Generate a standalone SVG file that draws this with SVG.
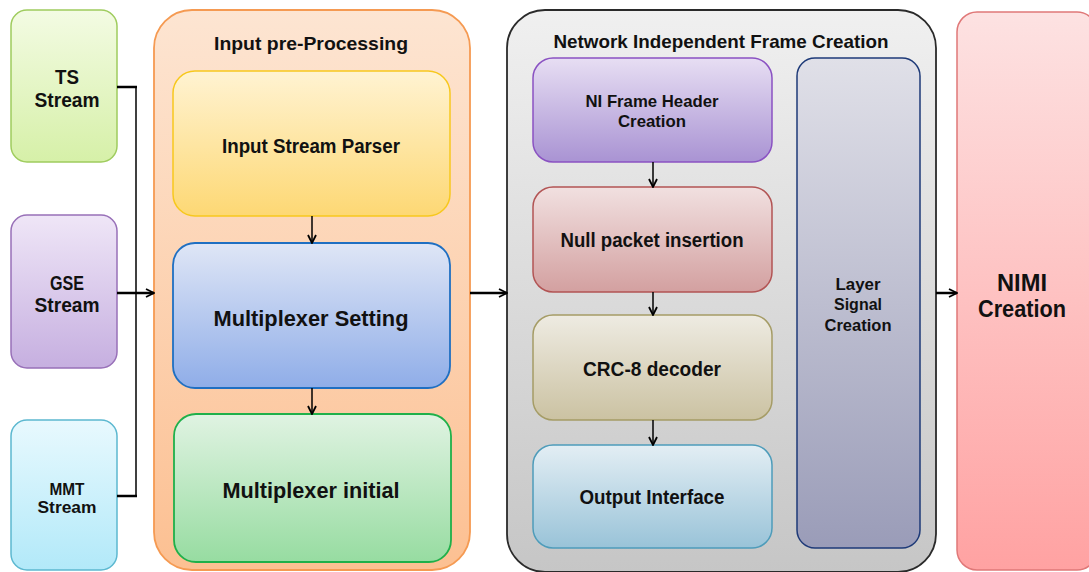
<svg xmlns="http://www.w3.org/2000/svg" width="1089" height="572" viewBox="0 0 1089 572">
  <defs>
    <linearGradient id="gTS" x1="0" y1="0" x2="0" y2="1"><stop offset="0" stop-color="#f3fbe3"/><stop offset="1" stop-color="#d6f0a8"/></linearGradient>
    <linearGradient id="gGSE" x1="0" y1="0" x2="0" y2="1"><stop offset="0" stop-color="#efe6f7"/><stop offset="1" stop-color="#c6afe0"/></linearGradient>
    <linearGradient id="gMMT" x1="0" y1="0" x2="0" y2="1"><stop offset="0" stop-color="#e8f9fe"/><stop offset="1" stop-color="#b2e9f9"/></linearGradient>
    <linearGradient id="gPre" x1="0" y1="0" x2="0" y2="1"><stop offset="0" stop-color="#fde5d2"/><stop offset="1" stop-color="#fcc092"/></linearGradient>
    <linearGradient id="gParser" x1="0" y1="0" x2="0" y2="1"><stop offset="0" stop-color="#fff3d2"/><stop offset="1" stop-color="#fdd874"/></linearGradient>
    <linearGradient id="gSet" x1="0" y1="0" x2="0" y2="1"><stop offset="0" stop-color="#dfe6f6"/><stop offset="1" stop-color="#8fade8"/></linearGradient>
    <linearGradient id="gInit" x1="0" y1="0" x2="0" y2="1"><stop offset="0" stop-color="#e0f3e2"/><stop offset="1" stop-color="#97dca1"/></linearGradient>
    <linearGradient id="gNI" x1="0" y1="0" x2="0" y2="1"><stop offset="0" stop-color="#f0f0f0"/><stop offset="1" stop-color="#c6c6c6"/></linearGradient>
    <linearGradient id="gHdr" x1="0" y1="0" x2="0" y2="1"><stop offset="0" stop-color="#e7def3"/><stop offset="1" stop-color="#a993d3"/></linearGradient>
    <linearGradient id="gNull" x1="0" y1="0" x2="0" y2="1"><stop offset="0" stop-color="#f1e0e0"/><stop offset="1" stop-color="#d3a0a0"/></linearGradient>
    <linearGradient id="gCRC" x1="0" y1="0" x2="0" y2="1"><stop offset="0" stop-color="#eeebe2"/><stop offset="1" stop-color="#cbc2a2"/></linearGradient>
    <linearGradient id="gOut" x1="0" y1="0" x2="0" y2="1"><stop offset="0" stop-color="#e3eef4"/><stop offset="1" stop-color="#99c3d8"/></linearGradient>
    <linearGradient id="gLayer" x1="0" y1="0" x2="0" y2="1"><stop offset="0" stop-color="#e0e0e8"/><stop offset="1" stop-color="#9a9cb8"/></linearGradient>
    <linearGradient id="gNIMI" x1="0" y1="0" x2="0" y2="1"><stop offset="0" stop-color="#fde2e2"/><stop offset="1" stop-color="#ffa2a2"/></linearGradient>
    <marker id="arr" viewBox="0 0 10 10" refX="9" refY="5" markerWidth="10" markerHeight="10" markerUnits="userSpaceOnUse" orient="auto">
      <path d="M1,1 L9,5 L1,9" fill="none" stroke="#000" stroke-width="1.8"/>
    </marker>
  </defs>
  <style>
    text { font-family: "Liberation Sans Narrow", "Liberation Sans", Arial, sans-serif; font-weight: bold; fill: #111; text-anchor: middle; }
    .c { fill: none; stroke: #000; }
    .thin { stroke-width: 1.5; }
    .thick { stroke-width: 2.5; }
  </style>

  <rect width="1089" height="572" fill="#ffffff"/>

  <!-- input streams -->
  <g id="ts-stream">
    <rect x="11" y="10" width="106" height="152" rx="16" fill="url(#gTS)" stroke="#9fcc5e" stroke-width="1.5"/>
    <text x="67" y="84" font-size="20" textLength="24" lengthAdjust="spacingAndGlyphs">TS</text>
    <text x="67" y="107" font-size="20" textLength="65" lengthAdjust="spacingAndGlyphs">Stream</text>
  </g>
  <g id="gse-stream">
    <rect x="11" y="215" width="106" height="153" rx="16" fill="url(#gGSE)" stroke="#9870b8" stroke-width="1.5"/>
    <text x="67" y="290" font-size="20" textLength="34" lengthAdjust="spacingAndGlyphs">GSE</text>
    <text x="67" y="312" font-size="20" textLength="65" lengthAdjust="spacingAndGlyphs">Stream</text>
  </g>
  <g id="mmt-stream">
    <rect x="11" y="420" width="106" height="150" rx="16" fill="url(#gMMT)" stroke="#5cb8d0" stroke-width="1.5"/>
    <text x="67" y="495" font-size="17" textLength="35" lengthAdjust="spacingAndGlyphs">MMT</text>
    <text x="67" y="513" font-size="17" textLength="59" lengthAdjust="spacingAndGlyphs">Stream</text>
  </g>

  <!-- input pre-processing stage -->
  <g id="input-preprocessing">
    <rect x="154" y="10" width="316" height="560" rx="38" fill="url(#gPre)" stroke="#f59a52" stroke-width="1.8"/>
    <text x="311" y="50" font-size="18" textLength="194" lengthAdjust="spacingAndGlyphs">Input pre-Processing</text>
  </g>
  <g id="input-stream-parser">
    <rect x="173" y="71" width="277" height="145" rx="22" fill="url(#gParser)" stroke="#f7c81e" stroke-width="1.5"/>
    <text x="311" y="153" font-size="20" textLength="178" lengthAdjust="spacingAndGlyphs">Input Stream Parser</text>
  </g>
  <g id="multiplexer-setting">
    <rect x="173" y="243" width="277" height="145" rx="22" fill="url(#gSet)" stroke="#1f6fc2" stroke-width="1.8"/>
    <text x="311" y="326" font-size="22" textLength="195" lengthAdjust="spacingAndGlyphs">Multiplexer Setting</text>
  </g>
  <g id="multiplexer-initial">
    <rect x="174" y="414" width="277" height="148" rx="22" fill="url(#gInit)" stroke="#1fb04a" stroke-width="1.8"/>
    <text x="311" y="498" font-size="22" textLength="177" lengthAdjust="spacingAndGlyphs">Multiplexer initial</text>
  </g>

  <!-- network independent frame creation stage -->
  <g id="ni-frame-creation">
    <rect x="507" y="10" width="429" height="562" rx="38" fill="url(#gNI)" stroke="#2a2a2a" stroke-width="1.8"/>
    <text x="721" y="48" font-size="19" textLength="335" lengthAdjust="spacingAndGlyphs">Network Independent Frame Creation</text>
  </g>
  <g id="ni-frame-header">
    <rect x="533" y="58" width="239" height="104" rx="20" fill="url(#gHdr)" stroke="#8a52c2" stroke-width="1.5"/>
    <text x="652" y="107" font-size="17" textLength="133" lengthAdjust="spacingAndGlyphs">NI Frame Header</text>
    <text x="652" y="127" font-size="17" textLength="68" lengthAdjust="spacingAndGlyphs">Creation</text>
  </g>
  <g id="null-packet-insertion">
    <rect x="533" y="187" width="239" height="105" rx="20" fill="url(#gNull)" stroke="#b25454" stroke-width="1.5"/>
    <text x="652" y="247" font-size="20" textLength="183" lengthAdjust="spacingAndGlyphs">Null packet insertion</text>
  </g>
  <g id="crc8-decoder">
    <rect x="533" y="315" width="239" height="105" rx="20" fill="url(#gCRC)" stroke="#a59c66" stroke-width="1.5"/>
    <text x="652" y="376" font-size="20" textLength="138" lengthAdjust="spacingAndGlyphs">CRC-8 decoder</text>
  </g>
  <g id="output-interface">
    <rect x="533" y="445" width="239" height="103" rx="20" fill="url(#gOut)" stroke="#4e9cba" stroke-width="1.5"/>
    <text x="652" y="504" font-size="20" textLength="145" lengthAdjust="spacingAndGlyphs">Output Interface</text>
  </g>
  <g id="layer-signal-creation">
    <rect x="797" y="58" width="123" height="490" rx="18" fill="url(#gLayer)" stroke="#1e3a78" stroke-width="1.5"/>
    <text x="858" y="290" font-size="17" textLength="45" lengthAdjust="spacingAndGlyphs">Layer</text>
    <text x="858" y="310" font-size="17" textLength="48" lengthAdjust="spacingAndGlyphs">Signal</text>
    <text x="858" y="331" font-size="17" textLength="67" lengthAdjust="spacingAndGlyphs">Creation</text>
  </g>

  <!-- output -->
  <g id="nimi-creation">
    <rect x="957" y="12" width="140" height="558" rx="20" fill="url(#gNIMI)" stroke="#e07878" stroke-width="1.5"/>
    <text x="1022" y="291" font-size="24" textLength="50" lengthAdjust="spacingAndGlyphs">NIMI</text>
    <text x="1022" y="317" font-size="24" textLength="88" lengthAdjust="spacingAndGlyphs">Creation</text>
  </g>

  <!-- connectors -->
  <g id="connectors">
    <path class="c thick" d="M117,87 H137"/>
    <path class="c thick" d="M117,496 H137"/>
    <path class="c thin" d="M136,87 V496"/>
    <path class="c thick" d="M117,293 H154" marker-end="url(#arr)"/>
    <path class="c thin" d="M312,216 V243" marker-end="url(#arr)"/>
    <path class="c thin" d="M312,388 V414" marker-end="url(#arr)"/>
    <path class="c thick" d="M470,293 H507" marker-end="url(#arr)"/>
    <path class="c thin" d="M653,162 V187" marker-end="url(#arr)"/>
    <path class="c thin" d="M653,292 V315" marker-end="url(#arr)"/>
    <path class="c thin" d="M653,420 V445" marker-end="url(#arr)"/>
    <path class="c thick" d="M936,293 H957" marker-end="url(#arr)"/>
  </g>
</svg>
